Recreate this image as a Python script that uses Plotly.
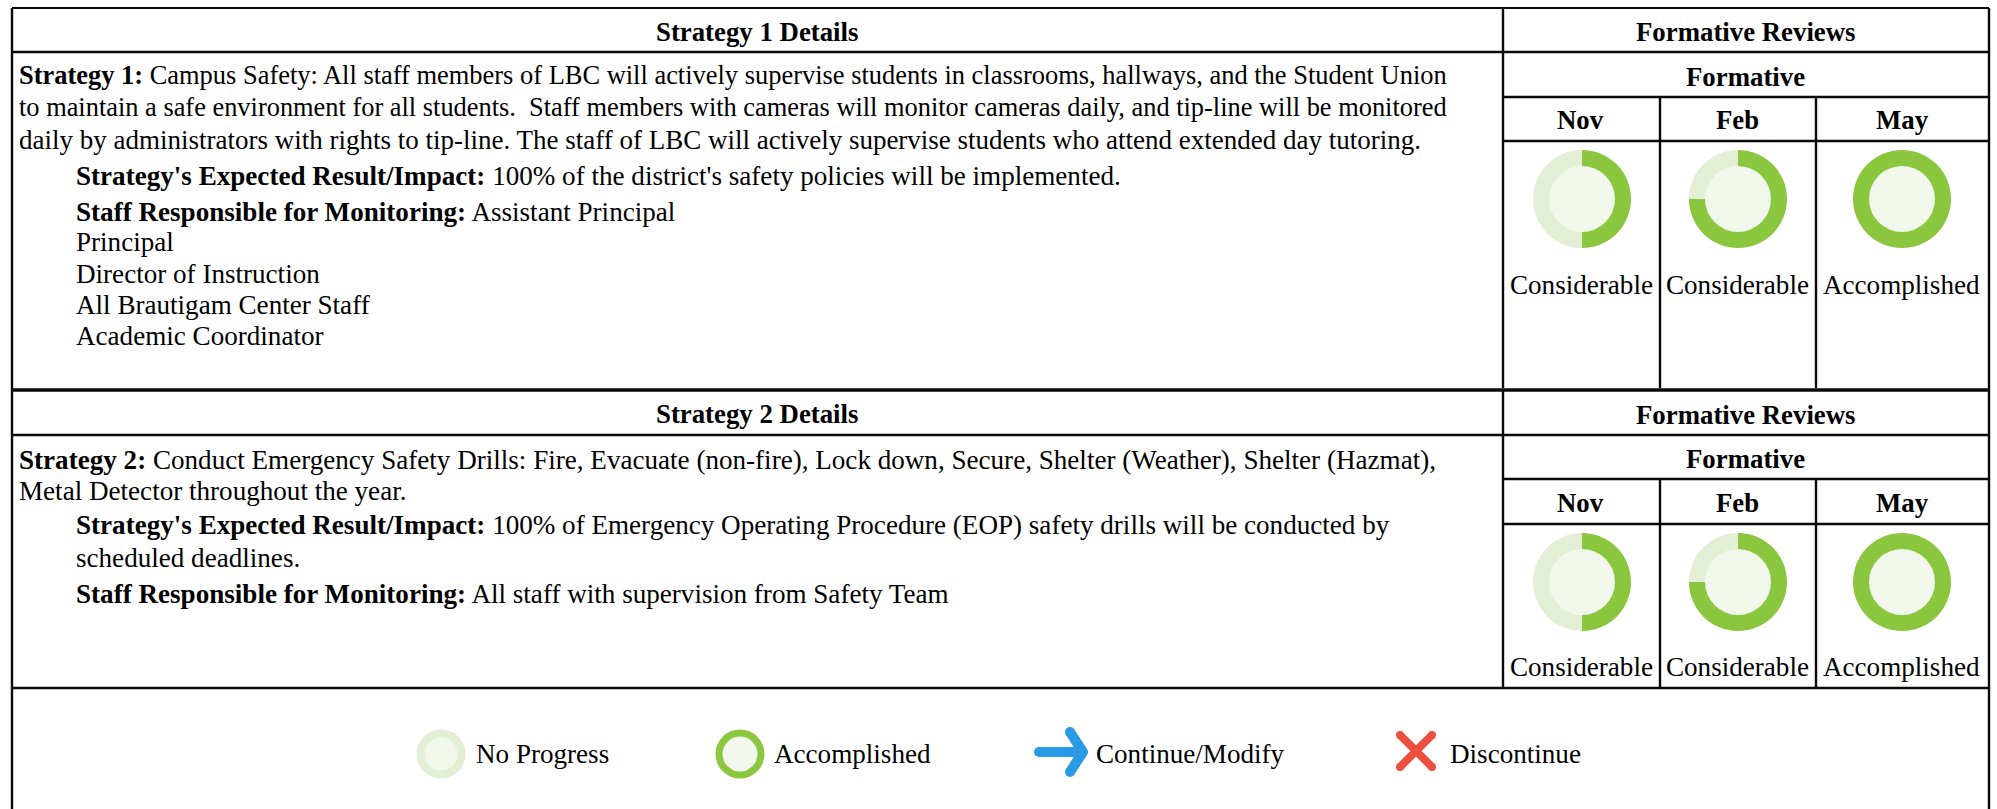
import plotly.graph_objects as go

W, H = 1997, 809

# ---- data ----
months = ["Nov", "Feb", "May"]
strategy1_progress = [50, 75, 100]
strategy2_progress = [50, 75, 100]
strategy1_status = ["Considerable", "Considerable", "Accomplished"]
strategy2_status = ["Considerable", "Considerable", "Accomplished"]
strategy1_lines = [
    "<b>Strategy 1:</b> Campus Safety: All staff members of LBC will actively supervise students in classrooms, hallways, and the Student Union",
    "to maintain a safe environment for all students.\u00a0 Staff members with cameras will monitor cameras daily, and tip-line will be monitored",
    "daily by administrators with rights to tip-line. The staff of LBC will actively supervise students who attend extended day tutoring.",
]
strategy1_details = [
    "<b>Strategy's Expected Result/Impact:</b> 100% of the district's safety policies will be implemented.",
    "<b>Staff Responsible for Monitoring:</b> Assistant Principal",
    "Principal",
    "Director of Instruction",
    "All Brautigam Center Staff",
    "Academic Coordinator",
]
strategy2_lines = [
    "<b>Strategy 2:</b> Conduct Emergency Safety Drills: Fire, Evacuate (non-fire), Lock down, Secure, Shelter (Weather), Shelter (Hazmat),",
    "Metal Detector throughout the year.",
]
strategy2_details = [
    "<b>Strategy's Expected Result/Impact:</b> 100% of Emergency Operating Procedure (EOP) safety drills will be conducted by",
    "scheduled deadlines.",
    "<b>Staff Responsible for Monitoring:</b> All staff with supervision from Safety Team",
]
legend_labels = ["No Progress", "Accomplished", "Continue/Modify", "Discontinue"]

# ---- style / layout ----
GREEN, PALE, CORE = "#8AC73F", "#E2EFD5", "#F1F7EA"
BLUE, RED = "#2A9AE5", "#EC4F3D"
INK = "#0A0A0A"
FONT = "Liberation Serif"
FS = 27.1
FS_HEAD = 26.8
X_L, X_D, X_F, X_M, X_R = 12, 1503, 1660, 1816, 1989
COL_CX = [1582, 1738, 1902]
COL_TX = [1581, 1737, 1901]
DET_X = 75


def px(x):
    return x / W


def py(y):
    return 1 - y / H


fig = go.Figure()
shapes, notes = [], []


def line(x0, y0, x1, y1, w=2.4, color=INK):
    shapes.append(dict(type="line", xref="paper", yref="paper", x0=px(x0), y0=py(y0),
                       x1=px(x1), y1=py(y1), line=dict(color=color, width=w)))


def stroke(points, color, w):
    """Polyline with rounded ends and joints."""
    for a, b in zip(points, points[1:]):
        line(a[0], a[1], b[0], b[1], w, color)
    for x, y in points:
        r = w / 2
        shapes.append(dict(type="circle", xref="paper", yref="paper", x0=px(x - r), x1=px(x + r),
                           y0=py(y + r), y1=py(y - r), fillcolor=color, line=dict(width=0)))


def text(x, y, s, anchor="left", size=FS):
    notes.append(dict(xref="paper", yref="paper", x=px(x), y=py(y), text=s, showarrow=False,
                      xanchor=anchor, yanchor="middle", borderpad=0,
                      font=dict(family=FONT, size=size, color="#000000")))


def donut(cx, cy, r_out, r_in, pct, base=PALE):
    fig.add_trace(go.Pie(values=[pct, 100 - pct], sort=False, direction="clockwise", rotation=0,
                         marker=dict(colors=[GREEN, base], line=dict(width=0)),
                         textinfo="none", hoverinfo="skip", showlegend=False,
                         domain=dict(x=[px(cx - r_out), px(cx + r_out)],
                                     y=[py(cy + r_out), py(cy - r_out)])))
    fig.add_trace(go.Pie(values=[1], marker=dict(colors=[CORE], line=dict(width=0)),
                         textinfo="none", hoverinfo="skip", showlegend=False,
                         domain=dict(x=[px(cx - r_in), px(cx + r_in)],
                                     y=[py(cy + r_in), py(cy - r_in)])))


def block(top, l1, l2, l3, bottom, title, title_y, lines, line_y, line_fs, details, det_y, progress, status, donut_y, status_y, top_w):
    line(X_L, top, X_R, top, top_w)
    line(X_L, l1, X_R, l1)
    line(X_D, l2, X_R, l2)
    line(X_D, l3, X_R, l3)
    line(X_D, top, X_D, bottom)
    line(X_F, l2, X_F, bottom)
    line(X_M, l2, X_M, bottom)
    text((X_L + X_D) / 2 - 1, title_y, f"<b>{title}</b>", "center", FS_HEAD)
    text((X_D + X_R) / 2, (top + l1) / 2 + 2, "<b>Formative Reviews</b>", "center", FS_HEAD)
    text((X_D + X_R) / 2 - 1, (l1 + l2) / 2 + 2, "<b>Formative</b>", "center", FS_HEAD)
    for i, m in enumerate(months):
        text([1580, 1737, 1902][i], (l2 + l3) / 2 + 1, f"<b>{m}</b>", "center", FS_HEAD)
        donut(COL_CX[i], donut_y, 49, 33, progress[i])
        text(COL_TX[i], status_y, status[i], "center")
    for s, y, f in zip(lines, line_y, line_fs):
        text(18, y, s, size=f)
    for s, y in zip(details, det_y):
        text(DET_X, y, s)


block(8, 52, 97, 141, 388, "Strategy 1 Details", 32, strategy1_lines, [75, 107, 140],
      [26.45, 26.4, 27.0], strategy1_details, [176, 212, 242, 274, 304.5, 336],
      strategy1_progress, strategy1_status, 199, 285, 2.2)
block(390, 435, 479, 524, 688, "Strategy 2 Details", 414, strategy2_lines, [460, 491],
      [FS, FS], strategy2_details, [525, 558, 594],
      strategy2_progress, strategy2_status, 582, 667, 3.6)
line(X_L, 688, X_R, 688)
line(X_L, 8, X_L, H)
line(X_R, 8, X_R, H)

# legend
LEG_Y = 754
donut(441, LEG_Y, 24.5, 16.5, 0)
donut(740, LEG_Y, 24.5, 17.5, 100)
stroke([(1039, 752), (1082, 752)], BLUE, 10)
stroke([(1070, 732), (1083, 752), (1070, 772)], BLUE, 10)
stroke([(1400, 735), (1432, 767)], RED, 8)
stroke([(1432, 735), (1400, 767)], RED, 8)
for s, x in zip(legend_labels, [475, 773, 1095, 1449]):
    text(x, LEG_Y, s)

fig.update_layout(width=W, height=H, margin=dict(l=0, r=0, t=0, b=0), paper_bgcolor="white",
                  plot_bgcolor="white", shapes=shapes, annotations=notes, showlegend=False)
fig.write_html("out.html", config=dict(displayModeBar=False),
               post_script="document.body.style.margin='0';document.body.style.overflow='hidden';")
